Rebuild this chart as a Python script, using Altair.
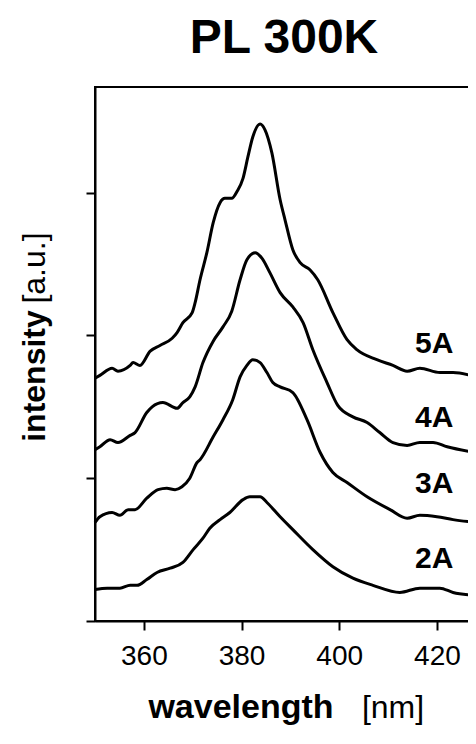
import altair as alt
import pandas as pd

# ---- data ----
wl_5A = [350.0, 351.0, 353.5, 354.7, 357.2, 357.8, 359.2, 361.3, 363.3, 365.8, 366.8, 368.0,
         369.9, 370.5, 371.5, 372.9, 374.2, 375.6, 376.6, 378.0, 379.1, 380.3, 381.3, 382.3,
         383.8, 384.8, 386.2, 387.9, 388.9, 390.5, 392.0, 394.0, 395.6, 398.7, 401.6, 403.6,
         407.7, 411.0, 413.9, 416.5, 420.6, 423.3, 428.0]
in_5A = [1.70, 1.72, 1.77, 1.75, 1.79, 1.81, 1.79, 1.89, 1.93, 1.98, 2.02, 2.09,
         2.16, 2.23, 2.39, 2.58, 2.79, 2.93, 2.96, 2.96, 3.01, 3.10, 3.25, 3.39,
         3.48, 3.44, 3.28, 2.95, 2.81, 2.60, 2.51, 2.46, 2.39, 2.16, 1.97, 1.90,
         1.83, 1.79, 1.75, 1.77, 1.74, 1.74, 1.71]

wl_4A = [350.0, 351.0, 353.1, 354.7, 357.2, 358.2, 360.6, 361.7, 363.9, 366.8, 368.0, 369.4,
         370.5, 372.1, 374.2, 376.2, 378.0, 379.7, 381.1, 382.8, 384.2, 385.8, 387.9, 390.5,
         392.6, 394.6, 397.5, 399.7, 402.8, 405.7, 408.3, 411.0, 413.9, 416.5, 419.2, 422.1,
         428.0]
in_4A = [1.20, 1.22, 1.27, 1.25, 1.30, 1.32, 1.46, 1.50, 1.53, 1.49, 1.53, 1.57,
         1.64, 1.81, 1.96, 2.06, 2.17, 2.39, 2.53, 2.58, 2.54, 2.44, 2.30, 2.20,
         2.09, 1.90, 1.67, 1.51, 1.43, 1.39, 1.32, 1.25, 1.23, 1.25, 1.25, 1.22,
         1.18]

wl_3A = [350.0, 351.0, 353.5, 355.1, 356.8, 358.2, 360.6, 362.9, 364.7, 366.4, 367.8, 369.4,
         370.9, 371.5, 374.2, 376.2, 378.2, 379.7, 381.1, 382.3, 383.8, 385.2, 386.4, 387.9,
         390.5, 393.4, 396.1, 398.7, 401.6, 405.7, 410.4, 413.9, 416.5, 420.0, 423.3, 428.0]
in_3A = [0.69, 0.73, 0.76, 0.74, 0.78, 0.78, 0.86, 0.92, 0.93, 0.92, 0.94, 1.00,
         1.11, 1.13, 1.29, 1.41, 1.55, 1.71, 1.79, 1.83, 1.81, 1.74, 1.67, 1.64,
         1.60, 1.41, 1.18, 1.04, 0.97, 0.87, 0.78, 0.72, 0.74, 0.73, 0.71, 0.69]

wl_2A = [350.0, 352.5, 355.1, 357.2, 358.6, 360.6, 362.7, 365.4, 368.0, 370.1, 372.1, 373.5,
         375.6, 377.6, 380.3, 381.7, 383.8, 385.2, 387.9, 390.5, 394.6, 398.7, 402.8, 406.9,
         412.4, 416.5, 420.6, 423.3, 428.0]
in_2A = [0.22, 0.23, 0.23, 0.25, 0.25, 0.29, 0.34, 0.37, 0.41, 0.50, 0.58, 0.65,
         0.71, 0.76, 0.85, 0.87, 0.87, 0.83, 0.73, 0.64, 0.50, 0.38, 0.30, 0.25,
         0.20, 0.23, 0.23, 0.20, 0.18]

series_names = ["5A", "4A", "3A", "2A"]
label_x = [415.5, 415.5, 415.5, 415.5]
label_y = [1.876, 1.362, 0.894, 0.369]

x_ticks = [360, 380, 400, 420]
y_ticks = [0, 1, 2, 3]

FONT = "Liberation Sans"

rows = []
for name, wl, iv in [("5A", wl_5A, in_5A), ("4A", wl_4A, in_4A),
                     ("3A", wl_3A, in_3A), ("2A", wl_2A, in_2A)]:
    for w, v in zip(wl, iv):
        rows.append({"series": name, "wl": w, "intensity": v})
df = pd.DataFrame(rows)
labels_df = pd.DataFrame({"series": series_names, "wl": label_x, "intensity": label_y})

xscale = alt.Scale(domain=[350, 428], nice=False, zero=False)
yscale = alt.Scale(domain=[0, 3.74], nice=False, zero=False)

xaxis = alt.Axis(values=x_ticks, title=None, grid=False, tickSize=9, tickWidth=2,
                 tickColor="black", domainColor="black", domainWidth=2,
                 labelFont=FONT, labelFontSize=28, labelColor="black", labelPadding=12,
                 format="d")
yaxis = alt.Axis(values=y_ticks, title=None, grid=False, labels=False, tickSize=9,
                 tickWidth=2, tickColor="black", domainColor="black", domainWidth=2)

lines = alt.Chart(df).mark_line(color="black", strokeWidth=3, interpolate="monotone").encode(
    x=alt.X("wl:Q", scale=xscale, axis=xaxis),
    y=alt.Y("intensity:Q", scale=yscale, axis=yaxis),
    detail="series:N",
)

curve_labels = alt.Chart(labels_df).mark_text(
    font=FONT, fontSize=30, fontWeight="bold", color="black", align="left", baseline="alphabetic"
).encode(x="wl:Q", y="intensity:Q", text="series:N")

one = pd.DataFrame({"a": [0]})


def deco(text, x, y, size, bold, angle=0):
    kw = dict(font=FONT, fontSize=size, fontWeight="bold" if bold else "normal",
              color="black", align="center", baseline="alphabetic", text=text)
    if angle:
        kw["angle"] = angle
    return alt.Chart(one).mark_text(**kw).encode(x=alt.value(x), y=alt.value(y))


title = deco("PL 300K", 189, -34, 48, True)
xt1 = deco("wavelength", 146, 631, 34, True)
xt2 = deco("[nm]", 298, 631, 32, False)
yt1 = deco("intensity", -50, 289, 32, True, angle=270)
yt2 = deco("[a.u.]", -50, 181, 32, False, angle=270)

chart = alt.layer(lines, curve_labels, title, xt1, xt2, yt1, yt2).properties(
    width=381, height=534,
    autosize=alt.AutoSizeParams(type="none"),
    padding={"left": 87, "top": 79, "right": -8, "bottom": 110},
).configure_view(stroke="black", strokeWidth=2)

chart.save("out.html", embed_options={"renderer": "svg", "actions": False})
